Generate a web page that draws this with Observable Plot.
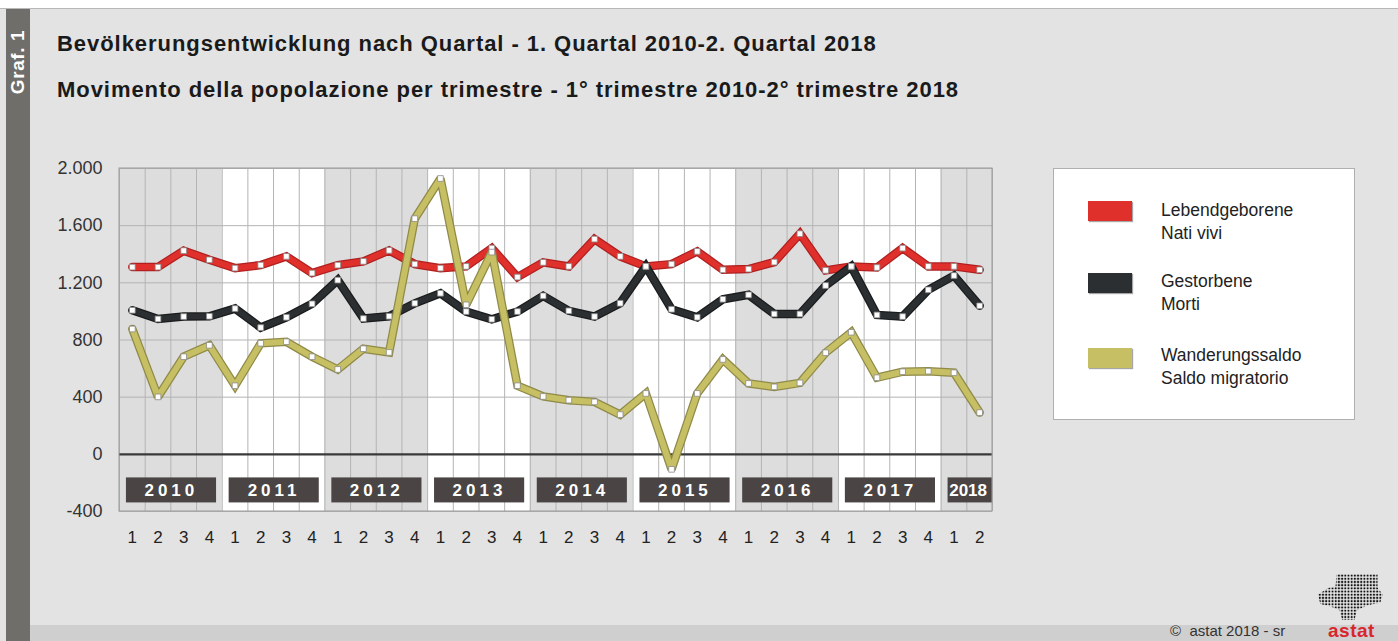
<!DOCTYPE html>
<html>
<head>
<meta charset="utf-8">
<script src="https://cdn.jsdelivr.net/npm/d3@7"></script>
<script src="https://cdn.jsdelivr.net/npm/@observablehq/plot@0.6"></script>
<style>
  body { margin: 0; }
  #page { position: relative; width: 1398px; height: 641px; background: #e3e3e3; overflow: hidden; font-family: "Liberation Sans", Arial, sans-serif; color: #1a1a1a; }
  #topstrip { position: absolute; left: 0; top: 0; width: 1398px; height: 8px; background: #fff; border-bottom: 1px solid #b8b8b8; }
  #leftbar { position: absolute; left: 6px; top: 9px; width: 24px; height: 632px; background: #6f6e6b; }
  #graf { position: absolute; left: 18px; top: 62px; transform: translate(-50%, -50%) rotate(-90deg); color: #fff; font-weight: bold; font-size: 19px; letter-spacing: 0.6px; white-space: nowrap; }
  .title { position: absolute; left: 57px; font-weight: bold; font-size: 22px; letter-spacing: 0.95px; white-space: nowrap; color: #1a1a1a; }
  #chart { position: absolute; left: 0; top: 0; }
  #legend { position: absolute; left: 1053px; top: 168px; width: 302px; height: 252px; background: #fff; border: 1px solid #b0b0b0; box-sizing: border-box; }
  .sw { position: absolute; left: 34px; width: 44px; height: 20px; box-shadow: 1px 1px 1px rgba(0,0,0,0.35); }
  .lt { position: absolute; left: 107px; font-size: 17.5px; line-height: 23px; color: #222; white-space: nowrap; }
  #footer { position: absolute; left: 30px; top: 625px; width: 1368px; height: 16px; background: #cfcfcf; }
  #copy { position: absolute; left: 1170px; top: 622px; font-size: 15px; color: #333; white-space: nowrap; }
  #astat { position: absolute; left: 1328px; top: 620px; font-size: 19px; font-weight: bold; color: #d8262c; letter-spacing: 0.5px; }
  #logo { position: absolute; left: 1315px; top: 574px; width: 68px; height: 46px;
          background-image: radial-gradient(circle, #111 1.1px, transparent 1.3px); background-size: 3.2px 3.2px;
          clip-path: polygon(4% 45%, 20% 30%, 30% 28%, 32% 0%, 92% 0%, 92% 30%, 100% 45%, 96% 62%, 78% 68%, 62% 78%, 58% 100%, 40% 100%, 36% 78%, 22% 70%, 8% 65%); }
</style>
</head>
<body>
<div id="page">
  <div id="topstrip"></div>
  <div id="leftbar"></div>
  <div id="graf">Graf. 1</div>
  <div class="title" style="top:31px">Bevölkerungsentwicklung nach Quartal - 1. Quartal 2010-2. Quartal 2018</div>
  <div class="title" style="top:77px">Movimento della popolazione per trimestre - 1° trimestre 2010-2° trimestre 2018</div>
  <div id="chart"></div>
  <div id="legend"></div>
  <div id="footer"></div>
  <div id="logo"></div>
  <div id="copy">©&nbsp; astat 2018 - sr</div>
  <div id="astat">astat</div>
</div>
<script>
// ---- data ----
const years = ["2010","2011","2012","2013","2014","2015","2016","2017","2018"];
const quarterLabels = ["1","2","3","4","1","2","3","4","1","2","3","4","1","2","3","4","1","2","3","4",
                       "1","2","3","4","1","2","3","4","1","2","3","4","1","2"];
const births = [1310,1310,1425,1361, 1303,1324,1385,1268, 1324,1350,1427,1331, 1303,1315,1443,1240,
                1343,1315,1506,1385, 1315,1331,1420,1291, 1296,1345,1544,1287, 1315,1307,1443,1315, 1315,1291];
const deaths = [1008,947,964,966, 1020,887,959,1053, 1219,950,966,1057, 1127,999,945,999,
                1109,1004,964,1057, 1315,1015,959,1085, 1116,982,982,1181, 1315,975,964,1151, 1251,1039];
const migration = [877,402,683,763, 480,777,788,683, 594,739,713,1649, 1930,1046,1415,480,
                   405,379,367,278, 426,-105,426,664, 496,472,500,711, 854,536,578,582, 571,292];
const yTicks = [-400,0,400,800,1200,1600,2000];
const seriesNames = [["Lebendgeborene", "Nati vivi"], ["Gestorbene", "Morti"], ["Wanderungssaldo", "Saldo migratorio"]];
const seriesColors = ["#e0302c", "#2b2f31", "#c6bf63"];
const seriesEdge = ["#b02020", "#1a1c1d", "#8f8a48"];

// ---- derived tables ----
const nQ = quarterLabels.length;
const seriesData = [births, deaths, migration].map((vals, s) =>
  vals.map((v, i) => ({x: i + 0.5, y: v, s})));
const yearBands = years.map((y, k) => ({year: y, x1: k * 4, x2: Math.min(k * 4 + 4, nQ), odd: k % 2 === 1}));
const grid = d3.range(0, nQ + 1);
const fmt = d3.formatLocale({decimal: ",", thousands: ".", grouping: [3], currency: ["", "€"], minus: "-"}).format(",");

const marks = [
  Plot.rect(yearBands, {x1: "x1", x2: "x2", y1: -400, y2: 2000, fill: d => d.odd ? "#ffffff" : "#dddddd"}),
  Plot.ruleX(grid, {x: d => d, stroke: "#b4b4b4", strokeWidth: 1}),
  Plot.ruleY(yTicks, {y: d => d, stroke: "#b4b4b4", strokeWidth: 1}),
  Plot.ruleY([0], {stroke: "#3a3a3a", strokeWidth: 2.2}),
  Plot.rect(yearBands, {x1: d => d.x1 + 0.27, x2: d => Math.min(d.x1 + 3.78, nQ), y1: -165, y2: -340, fill: "#4a4544"}),
  Plot.text(yearBands, {x: d => d.year === "2018" ? d.x1 + 1.05 : d.x1 + 2.02, y: -252, text: "year",
    fill: "#ffffff", fontWeight: "bold", fontSize: 17, className: "yeartxt"}),
];
seriesData.forEach((data, s) => {
  marks.push(Plot.line(data, {x: "x", y: "y", stroke: seriesEdge[s], strokeWidth: 8.5, strokeLinejoin: "miter", strokeMiterlimit: 2}));
  marks.push(Plot.line(data, {x: "x", y: "y", stroke: seriesColors[s], strokeWidth: 6, strokeLinejoin: "miter", strokeMiterlimit: 2}));
});
seriesData.forEach((data, s) => {
  marks.push(Plot.dot(data, {x: "x", y: "y", symbol: "square", r: 3.2, fill: "#ffffff", stroke: "#8a8a8a", strokeWidth: 0.8}));
});
marks.push(Plot.rect([0], {x1: 0, x2: nQ, y1: -400, y2: 2000, fill: "none", stroke: "#9a9a9a", strokeWidth: 1}));
marks.push(Plot.axisY({ticks: yTicks, tickFormat: fmt, tickSize: 0, tickPadding: 17, fontSize: 18, fill: "#333", label: null}));
marks.push(Plot.axisX({ticks: d3.range(nQ).map(i => i + 0.5), tickFormat: (d) => quarterLabels[Math.floor(d)],
  tickSize: 0, tickPadding: 19, fontSize: 17, fill: "#222", label: null}));

const chart = Plot.plot({
  width: 1398, height: 641,
  marginLeft: 119, marginRight: 406, marginTop: 168, marginBottom: 130,
  style: {background: "transparent", fontFamily: "'Liberation Sans', Arial, sans-serif"},
  x: {domain: [0, nQ], axis: null},
  y: {domain: [-400, 2000], axis: null},
  marks
});
d3.select(chart).selectAll(".yeartxt text").style("letter-spacing", (d, i, n) => years[d] === "2018" ? "0px" : "4px");
document.getElementById("chart").appendChild(chart);

// ---- legend ----
const legend = document.getElementById("legend");
const swTops = [32, 104, 179];
const txtTops = [30, 101, 175];
seriesNames.forEach((names, s) => {
  const sw = document.createElement("div");
  sw.className = "sw"; sw.style.top = swTops[s] + "px"; sw.style.background = seriesColors[s];
  legend.appendChild(sw);
  const t = document.createElement("div");
  t.className = "lt"; t.style.top = txtTops[s] + "px";
  t.innerHTML = names[0] + "<br>" + names[1];
  legend.appendChild(t);
});
</script>
</body>
</html>
